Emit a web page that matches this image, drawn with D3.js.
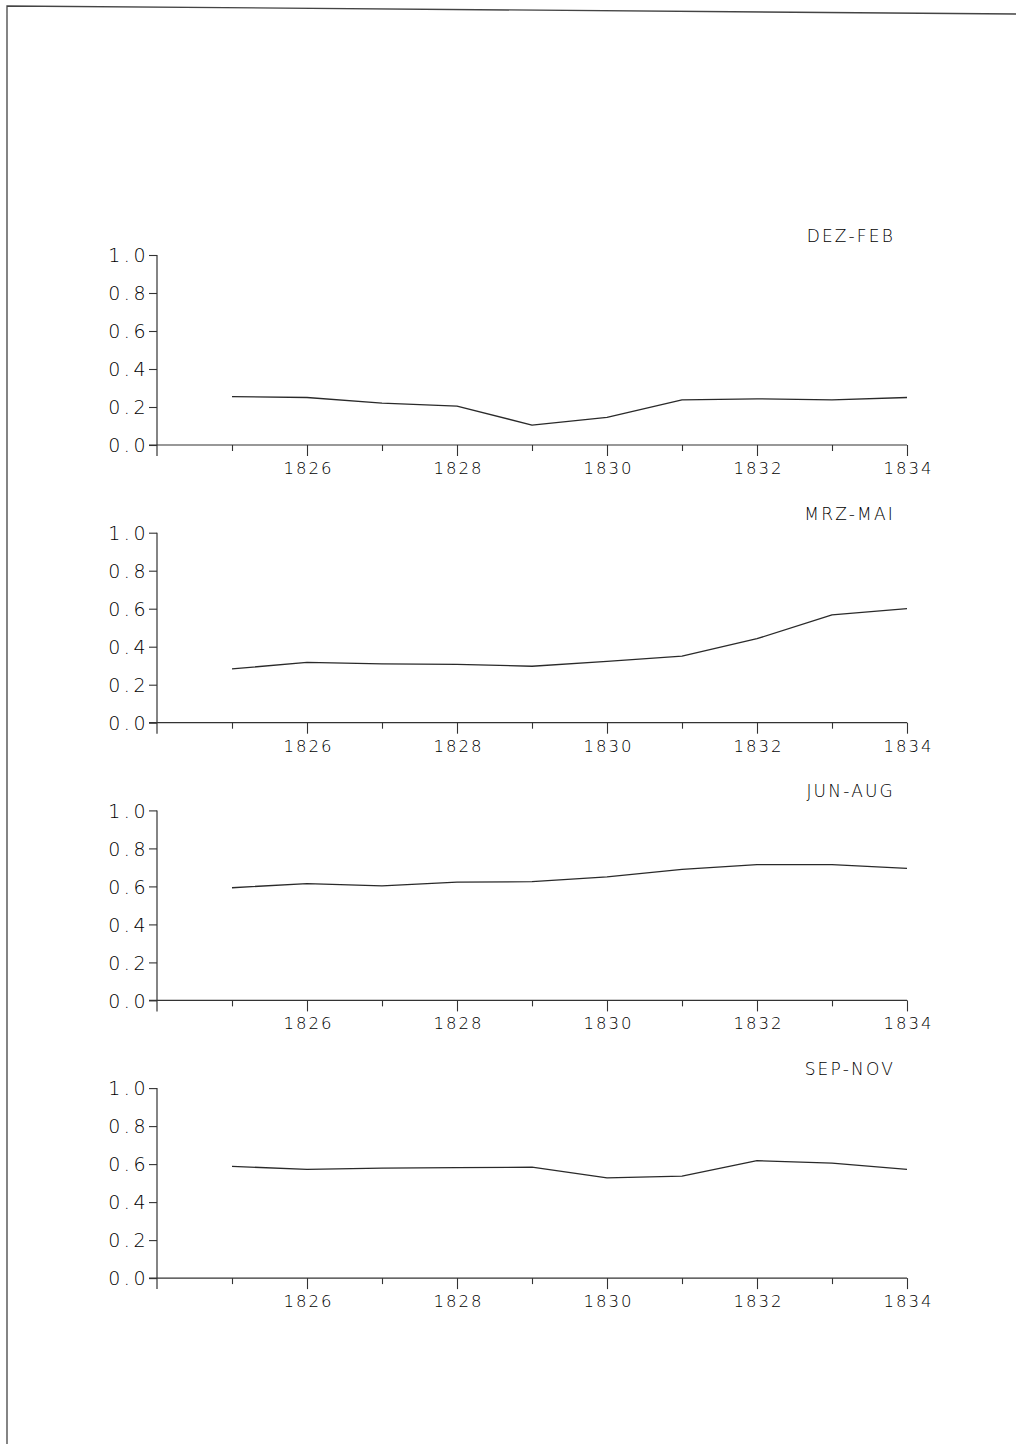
<!DOCTYPE html>
<html>
<head>
<meta charset="utf-8">
<script src="https://cdn.jsdelivr.net/npm/d3@7"></script>
<style>
  body { margin: 0; background: #fff; }
  svg text { font-family: "DejaVu Sans", "Liberation Sans", sans-serif; font-weight: 200; fill: #000; }
</style>
</head>
<body>
<div id="chart"></div>
<script>
var years = [1825, 1826, 1827, 1828, 1829, 1830, 1831, 1832, 1833, 1834];
var seasons = ["DEZ-FEB", "MRZ-MAI", "JUN-AUG", "SEP-NOV"];

var dezFeb = [0.255, 0.25, 0.22, 0.205, 0.105, 0.145, 0.238, 0.243, 0.238, 0.25];
var mrzMai = [0.283, 0.318, 0.31, 0.307, 0.297, 0.323, 0.35, 0.442, 0.568, 0.60];
var junAug = [0.593, 0.615, 0.603, 0.622, 0.625, 0.65, 0.69, 0.715, 0.715, 0.695];
var sepNov = [0.588, 0.572, 0.579, 0.581, 0.584, 0.527, 0.537, 0.618, 0.605, 0.572];

var series = [dezFeb, mrzMai, junAug, sepNov];

var yTicks = [0, 0.2, 0.4, 0.6, 0.8, 1.0];
var majorYears = [1826, 1828, 1830, 1832, 1834];
var minorYears = [1825, 1827, 1829, 1831, 1833];

var svgWidth = 1016, svgHeight = 1444;
var left = 157, right = 907;
var firstZero = 445, panelStep = 277.7, panelHeight = 190;

var svg = d3.select("#chart").append("svg")
    .attr("width", svgWidth)
    .attr("height", svgHeight);

// page edge of the scanned sheet
svg.append("path")
    .attr("d", "M7,1444 L7,6 L1016,14")
    .attr("fill", "none")
    .attr("stroke", "#444")
    .attr("stroke-width", 1.3);

var x = d3.scaleLinear()
    .domain([1824, 1834])
    .range([left, right]);

var line = d3.line()
    .x(function(d) { return x(d.year); })
    .y(function(d) { return d.y; });

series.forEach(function(values, i) {
  var zero = firstZero + i * panelStep;

  var y = d3.scaleLinear()
      .domain([0, 1])
      .range([zero, zero - panelHeight]);

  var g = svg.append("g");

  // y axis
  var yAxis = g.append("g")
      .attr("transform", "translate(" + left + ",0)")
      .call(d3.axisLeft(y).tickValues(yTicks).tickSize(8).tickFormat(d3.format(".1f")));
  yAxis.select(".domain").remove();
  yAxis.selectAll(".tick line").attr("stroke", "#333").attr("stroke-width", 1.1);
  yAxis.selectAll(".tick text")
      .attr("x", -8)
      .attr("dy", "0.36em")
      .style("font-size", "19px")
      .style("letter-spacing", "3.5px");

  g.append("line")
      .attr("x1", left).attr("x2", left)
      .attr("y1", y(1)).attr("y2", zero + 11)
      .attr("stroke", "#333").attr("stroke-width", 1.2);

  // x axis
  g.append("line")
      .attr("x1", left - 8).attr("x2", x(1834))
      .attr("y1", zero).attr("y2", zero)
      .attr("stroke", "#333").attr("stroke-width", 1.2);

  var minor = g.append("g")
      .attr("transform", "translate(0," + zero + ")")
      .call(d3.axisBottom(x).tickValues(minorYears).tickSize(6).tickFormat(""));
  minor.select(".domain").remove();
  minor.selectAll(".tick line").attr("stroke", "#333").attr("stroke-width", 1.1);

  var major = g.append("g")
      .attr("transform", "translate(0," + zero + ")")
      .call(d3.axisBottom(x).tickValues(majorYears).tickSize(11).tickFormat(d3.format("d")));
  major.select(".domain").remove();
  major.selectAll(".tick line").attr("stroke", "#333").attr("stroke-width", 1.1);
  major.selectAll(".tick text")
      .attr("y", 29)
      .attr("dy", 0)
      .attr("dx", 1)
      .style("font-size", "16.5px")
      .style("letter-spacing", "2px");

  // title
  g.append("text")
      .attr("x", 895)
      .attr("y", y(1) - 13)
      .attr("text-anchor", "end")
      .style("font-size", "17px")
      .style("letter-spacing", "2.2px")
      .text(seasons[i]);

  // series line
  var pts = years.map(function(yr, j) { return { year: yr, y: y(values[j]) }; });
  g.append("path")
      .datum(pts)
      .attr("fill", "none")
      .attr("stroke", "#2a2a2a")
      .attr("stroke-width", 1.3)
      .attr("stroke-linejoin", "round")
      .attr("d", line);
});
</script>
</body>
</html>
